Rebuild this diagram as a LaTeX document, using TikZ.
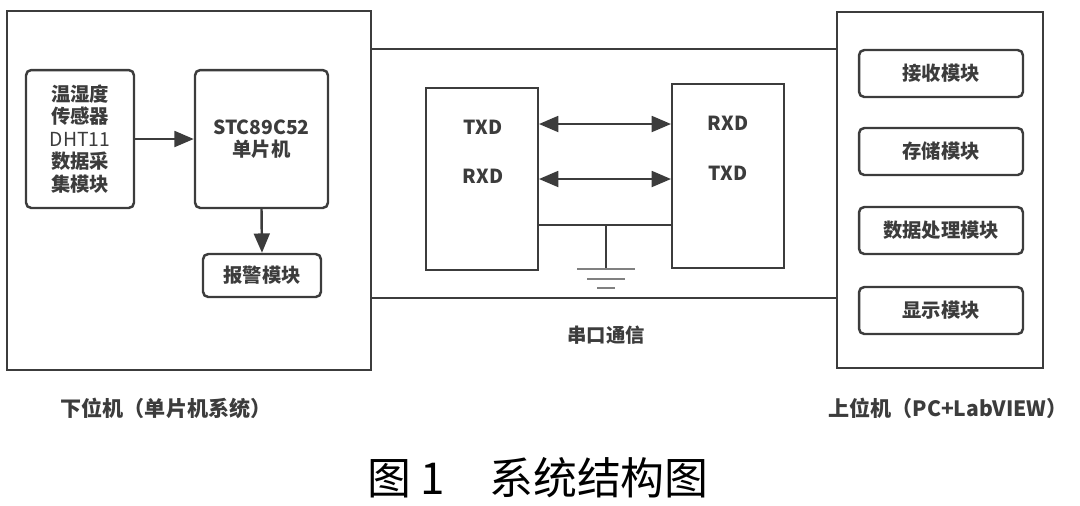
\documentclass[tikz,border=0pt]{standalone}
\usepackage{fontspec}
\setmainfont{Noto Sans CJK SC}
\usetikzlibrary{arrows.meta,calc}
\definecolor{ink}{HTML}{3C3C3C}
\begin{document}
\begin{tikzpicture}[x=0.02cm,y=-0.02cm,
		box/.style={draw=ink, line width=1.1pt, minimum width=#1},
		modbox/.style={draw=ink, line width=1.4pt, rounded corners=3pt, align=center,
			font=\bfseries\fontsize{11}{12.8}\selectfont, text=ink},
		lbl/.style={font=\bfseries\fontsize{11}{13}\selectfont, text=ink},
		arr/.style={-{Triangle[length=11pt,width=9pt]}, draw=ink, line width=1.4pt},
		wire/.style={draw=ink, line width=1.4pt}]
		\useasboundingbox (0,0) rectangle (1080,505);
		% outer boxes
		\node[box=7.28cm, minimum height=7.18cm] (lower) at (189,190.5) {};
		\node[box=4.12cm, minimum height=7.12cm] (upper) at (940,190) {};
		\coordinate (top) at (600,49);
		\coordinate (bot) at (600,298);
		\draw[draw=ink, line width=1.1pt] (lower.east |- top) -- (upper.west |- top);
		\draw[draw=ink, line width=1.1pt] (lower.east |- bot) -- (upper.west |- bot);
		% single chip side
		\node[modbox, minimum width=2.16cm, minimum height=2.76cm] (sensor) at (80,139)
			{温湿度\\传感器\\{\mdseries DHT11}\\数据采\\集模块};
		\node[modbox, minimum width=2.66cm, minimum height=2.76cm] (mcu) at (261.5,139)
			{STC89C52\\单片机};
		\node[modbox, minimum width=2.36cm, minimum height=0.86cm] (alarm) at (262,275.5) {报警模块};
		\draw[arr] (sensor.east) -- (mcu.west);
		\draw[arr] (mcu.south) -- (alarm.north);
		% serial link
		\node[box=2.24cm, minimum height=3.64cm] (lport) at (482,179) {};
		\node[box=2.24cm, minimum height=3.68cm] (rport) at (728,176) {};
		\node[lbl] (ltxd) at (483,127) {TXD};
		\node[lbl] (lrxd) at (483,176) {RXD};
		\node[lbl] (rrxd) at (728,123) {RXD};
		\node[lbl] (rtxd) at (728,173) {TXD};
		\coordinate (l1) at (600,124);
		\coordinate (l2) at (600,179);
		\coordinate (gnd) at (606,225);
		\draw[arr, {Triangle[length=11pt,width=9pt]}-{Triangle[length=11pt,width=9pt]}] (lport.east |- l1) -- (rport.west |- l1);
		\draw[arr, {Triangle[length=11pt,width=9pt]}-{Triangle[length=11pt,width=9pt]}] (lport.east |- l2) -- (rport.west |- l2);
		\draw[wire] (lport.east |- gnd) -- (rport.west |- gnd);
		\draw[wire] (gnd) -- ++(0,44) coordinate (earth);
		\draw[gray, line width=1.1pt] ($(earth)+(-29,0)$) -- ++(58,0);
		\draw[gray, line width=1.1pt] ($(earth)+(-19,10)$) -- ++(38,0);
		\draw[gray, line width=1.1pt] ($(earth)+(-9,19)$) -- ++(18,0);
		\node[lbl] (serial) at (606,335) {串口通信};
		% PC side
		\node[modbox, minimum width=3.28cm, minimum height=0.94cm] (recv) at (941,73.5) {接收模块};
		\node[modbox, minimum width=3.28cm, minimum height=0.94cm] (store) at (941,151.5) {存储模块};
		\node[modbox, minimum width=3.28cm, minimum height=0.94cm] (proc) at (941,230.5) {数据处理模块};
		\node[modbox, minimum width=3.28cm, minimum height=0.94cm] (disp) at (941,310.5) {显示模块};
		% captions
		\node[lbl, font=\bfseries\fontsize{12}{14}\selectfont] (lowname) at (166,408) {下位机（单片机系统）};
		\node[lbl, font=\bfseries\fontsize{12}{14}\selectfont] (upname) at (948,408) {上位机（PC+LabVIEW）};
		\node[font=\fontsize{25}{28}\selectfont] (title) at (538,478) {图 1\quad 系统结构图};
	\end{tikzpicture}
\end{document}
